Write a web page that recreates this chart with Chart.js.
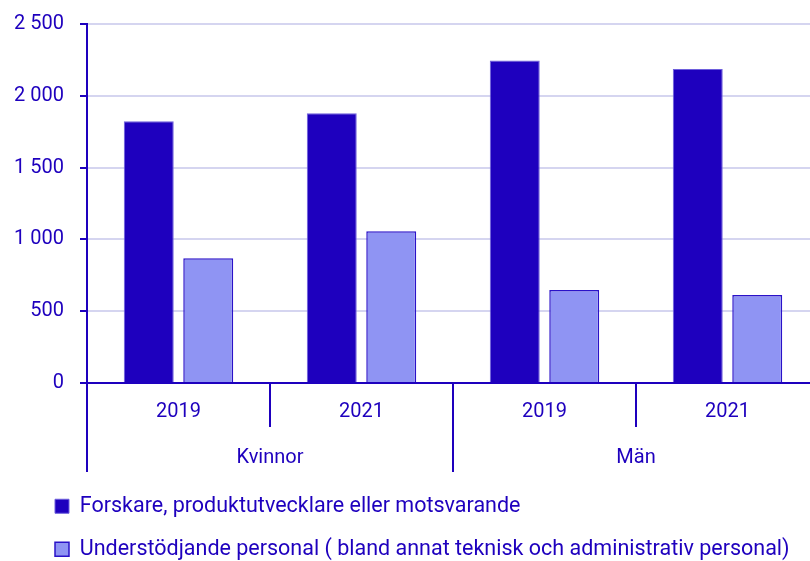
<!DOCTYPE html>
<html><head><meta charset="utf-8">
<script src="https://cdn.jsdelivr.net/npm/chart.js@4/dist/chart.umd.min.js"></script>
<style>
html,body{margin:0;padding:0;overflow:hidden;background:#fff;width:810px;height:561px}
#wrap{width:819px;height:561px;position:relative}
canvas{display:block}
</style>
</head><body><div id="wrap"><canvas id="c" width="819" height="561"></canvas></div>
<script>
const years = ['2019', '2021', '2019', '2021'];
const groups = ['Kvinnor', 'Män'];
const seriesNames = ['Forskare, produktutvecklare eller motsvarande', 'Understödjande personal ( bland annat teknisk och administrativ personal)'];
const researchers = [1822, 1878, 2246, 2186];
const support = [868, 1057, 647, 612];
const yMin = 0, yMax = 2500, yStep = 500;

const dark = '#1e00be';
const light = '#8f94f3';
const gridCol = '#d5d5f0';
const fam = 'Roboto, "Noto Sans", sans-serif';

const fmt = v => String(v).replace(/\B(?=(\d{3})+(?!\d))/g, ' ');

const legendFix = {
  id: 'legendFix',
  beforeLayout(chart) {
    const lg = chart.legend;
    if (lg && !lg._patched) {
      const orig = lg.fit.bind(lg);
      lg.fit = function () { orig(); this.height = 89; };
      lg._patched = true;
    }
  },
  beforeDraw(chart) {
    if (chart.legend) {
      chart.legend.left = 33.5;
      chart.legend.top = chart.chartArea.bottom + 89 + 2;
    }
  }
};

new Chart(document.getElementById('c'), {
  type: 'bar',
  data: {
    labels: years,
    datasets: [
      { label: seriesNames[0], data: researchers, backgroundColor: dark, borderColor: '#6e5fdc', borderWidth: 1,
        categoryPercentage: 0.65, barPercentage: 0.84 },
      { label: seriesNames[1], data: support, backgroundColor: light, borderColor: '#2a12c8', borderWidth: 1.5,
        categoryPercentage: 0.65, barPercentage: 0.84 }
    ]
  },
  options: {
    responsive: false,
    animation: false,
    layout: { padding: { top: 24, left: 0, right: 0, bottom: 0 } },
    plugins: {
      tooltip: { enabled: false },
      legend: {
        position: 'bottom', align: 'start',
        labels: { color: dark, font: { family: fam, size: 21.5 }, boxWidth: 14, boxHeight: 14, padding: 21.5 }
      }
    },
    scales: {
      x: {
        type: 'category', labels: years, offset: true, position: 'bottom',
        grid: { offset: true, drawOnChartArea: false, color: dark, lineWidth: 2, tickLength: 44 },
        border: { color: dark, width: 2 },
        ticks: { color: dark, font: { family: fam, size: 20 }, padding: -27, maxRotation: 0, autoSkip: false },
        afterFit(s) { s.height = 44; }
      },
      x2: {
        type: 'category', labels: groups, offset: true, position: 'bottom',
        grid: { offset: true, drawOnChartArea: false, color: dark, lineWidth: 2, tickLength: 45 },
        border: { display: false },
        ticks: { color: dark, font: { family: fam, size: 20 }, padding: -26, maxRotation: 0, autoSkip: false },
        afterFit(s) { s.height = 45; }
      },
      y: {
        min: yMin, max: yMax,
        ticks: { stepSize: yStep, color: dark, font: { family: fam, size: 20 }, padding: 16, callback: v => fmt(v) },
        grid: { color: gridCol, lineWidth: 2, tickColor: dark, tickLength: 7, tickWidth: 2 },
        border: { color: dark, width: 2 },
        afterFit(s) { s.width = 87; s.paddingTop = 0; s.paddingBottom = 0; }
      }
    }
  },
  plugins: [legendFix]
});
</script>
</body></html>
